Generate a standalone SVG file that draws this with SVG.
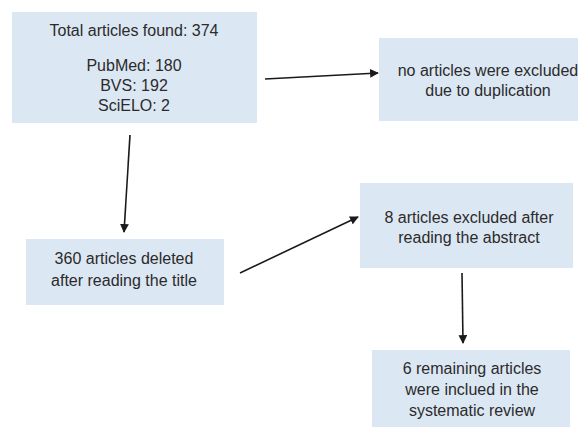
<svg xmlns="http://www.w3.org/2000/svg" width="579" height="428" viewBox="0 0 579 428">
<style>
.box{fill:#dce7f4;}
.t{font-family:"Liberation Sans",Arial,sans-serif;font-size:16px;fill:#2b2b2b;text-anchor:middle;}
.c{stroke:#1a1a1a;stroke-width:1.6;fill:none;marker-end:url(#ah);}
</style>
<defs>
<marker id="ah" viewBox="0 0 10 10" refX="9" refY="5" markerWidth="5.5" markerHeight="5.5" orient="auto" markerUnits="strokeWidth">
<path d="M0,0 L10,5 L0,10 Z" fill="#1a1a1a"/>
</marker>
</defs>
<rect width="579" height="428" fill="#ffffff"/>
<g id="n1">
<rect class="box" x="12" y="12" width="245" height="111"/>
<text class="t" x="134" y="36">Total articles found: 374</text>
<text class="t" x="134" y="71">PubMed: 180</text>
<text class="t" x="134" y="91">BVS: 192</text>
<text class="t" x="134" y="111">SciELO: 2</text>
</g>
<g id="n2">
<rect class="box" x="379" y="38" width="199" height="83"/>
<text class="t" x="488" y="76">no articles were excluded</text>
<text class="t" x="488" y="96">due to duplication</text>
</g>
<g id="n3">
<rect class="box" x="26" y="239" width="198" height="66"/>
<text class="t" x="124" y="264">360 articles deleted</text>
<text class="t" x="124" y="286">after reading the title</text>
</g>
<g id="n4">
<rect class="box" x="360" y="183" width="213" height="85"/>
<text class="t" x="469" y="223">8 articles excluded after</text>
<text class="t" x="469" y="243">reading the abstract</text>
</g>
<g id="n5">
<rect class="box" x="372" y="350" width="198" height="77"/>
<text class="t" x="472" y="374">6 remaining articles</text>
<text class="t" x="472" y="395">were inclued in the</text>
<text class="t" x="472" y="416">systematic review</text>
</g>
<g id="connectors">
<line class="c" x1="265" y1="79" x2="378" y2="73"/>
<line class="c" x1="130" y1="135" x2="124" y2="232"/>
<line class="c" x1="240" y1="273" x2="358" y2="217"/>
<line class="c" x1="462" y1="273" x2="463" y2="343"/>
</g>
</svg>
